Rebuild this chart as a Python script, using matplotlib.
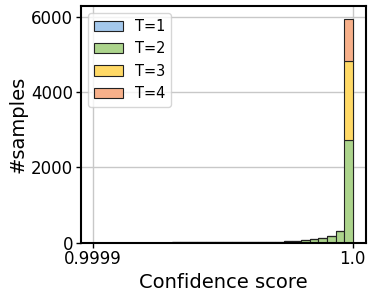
import numpy as np
import matplotlib
matplotlib.use("Agg")
import matplotlib.pyplot as plt
from matplotlib.ticker import FixedLocator, FixedFormatter

# Data (stacked histogram counts, 30 bins from x_min to 1.0)
x_min = 0.9999005
x_max = 1.0
n_bins = 30
labels = ["T=1", "T=2", "T=3", "T=4"]
colors = ["#a4c8ec", "#acd48c", "#ffd966", "#f7b08a"]
t1 = [0]*30
t2 = [2, 2, 3, 3, 3, 4, 4, 5, 5, 6, 6, 7, 8, 9, 10, 11, 13, 15, 17, 20,
      20, 25, 35, 45, 70, 95, 130, 185, 310, 2731]
t3 = [0]*29 + [2101]
t4 = [0]*29 + [1117]
series = [t1, t2, t3, t4]
xticks = [0.9999, 1.0]
xticklabels = ["0.9999", "1.0"]
yticks = [0, 2000, 4000, 6000]

edges = np.linspace(x_min, x_max, n_bins + 1)
width = edges[1] - edges[0]

fig = plt.figure(figsize=(3.74, 2.97), dpi=100)
ax = fig.add_axes([81/374, 1 - 242.7/297, 284.7/374, 236.7/297])
ax.set_axisbelow(True)
ax.grid(True, color="#c8c8c8", linewidth=1.0)

bottom = np.zeros(n_bins)
for s, lab, c in zip(series, labels, colors):
    vals = np.array(s, dtype=float)
    ax.bar(edges[:-1], vals, width=width, bottom=bottom, align="edge",
           color=c, edgecolor="#222222", linewidth=0.8, label=lab)
    bottom += vals

rng = x_max - x_min
ax.set_xlim(x_min - 0.05*rng, x_max + 0.05*rng)
ax.set_ylim(0, 6290)
ax.xaxis.set_major_locator(FixedLocator(xticks))
ax.xaxis.set_major_formatter(FixedFormatter(xticklabels))
ax.set_yticks(yticks)
ax.tick_params(labelsize=12, length=3.5, width=1, pad=2)
for sp in ax.spines.values():
    sp.set_linewidth(1.5)
ax.set_xlabel("Confidence score", fontsize=14, labelpad=3)
ax.set_ylabel("#samples", fontsize=14, labelpad=3)
ax.legend(loc="upper left", fontsize=10.5, handlelength=2.0)

fig.savefig("out.png", dpi=100)
